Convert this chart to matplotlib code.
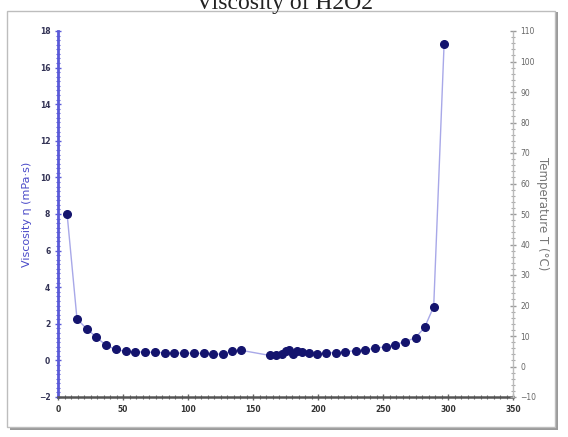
import numpy as np
import matplotlib
matplotlib.use("Agg")
import matplotlib.pyplot as plt
from matplotlib.patches import Rectangle
from matplotlib.ticker import MultipleLocator

# data
x_vals = [7, 14.6, 22, 29.5, 37, 44.5, 52, 59.5, 67, 74.5, 82, 89.5, 97, 104.5,
          112, 119.5, 127, 134, 141, 163, 168, 172, 175, 178, 181, 184, 188,
          193, 199, 206, 214, 221, 229, 236, 244, 252, 259, 267, 275, 282,
          289, 297]
visc = [8.0, 2.27, 1.73, 1.27, 0.82, 0.60, 0.49, 0.47, 0.45, 0.44, 0.42, 0.40,
        0.40, 0.39, 0.38, 0.36, 0.33, 0.54, 0.55, 0.27, 0.27, 0.33, 0.50, 0.55,
        0.35, 0.50, 0.45, 0.38, 0.36, 0.40, 0.43, 0.48, 0.53, 0.58, 0.66,
        0.75, 0.86, 1.02, 1.24, 1.80, 2.94, 17.3]

title = "Viscosity of H2O2"
left_label = "Viscosity η (mPa·s)"
right_label = "Temperature T (°C)"

W, H = 568, 437
fig = plt.figure(figsize=(W / 100, H / 100), dpi=100)

# frame with shadow
fig.patches.append(Rectangle((10 / W, 1 - 430 / H), 548 / W, 418 / H,
                             transform=fig.transFigure, facecolor="#9a9a9a",
                             edgecolor="none", zorder=-2))
fig.patches.append(Rectangle((7 / W, 1 - 427 / H), 548 / W, 416 / H,
                             transform=fig.transFigure, facecolor="white",
                             edgecolor="#bdbdbd", linewidth=1.0, zorder=-1))

fig.text(0.5, 1 - 3 / H, title, ha="center", va="center", fontsize=17,
         family="Liberation Serif", color="#222222")

ax = fig.add_axes([58 / W, 1 - 397 / H, 455 / W, 366 / H])
ax.set_facecolor("none")
ax.plot(x_vals, visc, color="#a8a8e8", linewidth=1.0, zorder=2)
ax.plot(x_vals, visc, "o", color="#14146e", markersize=5.5, zorder=3)

ax.set_xlim(0, 350)
ax.set_ylim(-2, 18)
ax.xaxis.set_major_locator(MultipleLocator(50))
ax.xaxis.set_minor_locator(MultipleLocator(5))
ax.yaxis.set_major_locator(MultipleLocator(2))
ax.yaxis.set_minor_locator(MultipleLocator(0.25))

for s in ["top", "right"]:
    ax.spines[s].set_visible(False)
ax.spines["left"].set_color("#5a5ad8")
ax.spines["left"].set_linewidth(2.0)
ax.spines["bottom"].set_color("#555555")
ax.spines["bottom"].set_linewidth(1.8)
ax.spines["bottom"].set_linestyle((0, (2, 1)))

ax.tick_params(axis="y", which="major", colors="#5a5ad8", length=4, width=1,
               labelsize=5.5, labelcolor="#333355", direction="inout")
ax.tick_params(axis="y", which="minor", colors="#5a5ad8", length=2.5, width=0.8,
               direction="inout")
ax.tick_params(axis="x", which="major", colors="#666666", length=4, width=1,
               labelsize=5.5, labelcolor="#333333", direction="inout")
ax.tick_params(axis="x", which="minor", colors="#666666", length=2.5, width=0.8,
               direction="inout")
for lab in ax.get_xticklabels() + ax.get_yticklabels():
    lab.set_fontweight("bold")

ax.set_ylabel(left_label, color="#4a4ac8", fontsize=8, labelpad=5)

ax2 = ax.twinx()
ax2.set_ylim(-10, 110)
ax2.yaxis.set_major_locator(MultipleLocator(10))
ax2.yaxis.set_minor_locator(MultipleLocator(2))
for s in ["top", "left", "bottom"]:
    ax2.spines[s].set_visible(False)
ax2.spines["right"].set_color("#bbbbbb")
ax2.spines["right"].set_linewidth(1.0)
ax2.spines["right"].set_linestyle((0, (2, 1)))
ax2.tick_params(axis="y", which="major", colors="#999999", length=4, width=1,
                labelsize=5.5, labelcolor="#666666", direction="inout")
ax2.tick_params(axis="y", which="minor", colors="#aaaaaa", length=2.5, width=0.8,
                direction="inout")
ax2.set_ylabel(right_label, color="#777777", fontsize=8.5, rotation=270,
               labelpad=9)

fig.savefig("out.png", dpi=100)
